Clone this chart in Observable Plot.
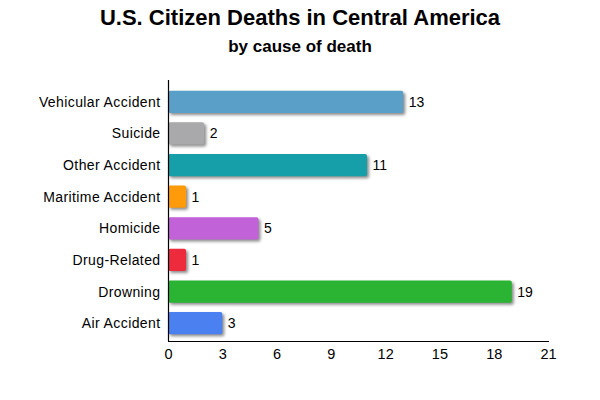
<!DOCTYPE html>
<html>
<head>
<meta charset="utf-8">
<script src="https://cdn.jsdelivr.net/npm/d3@7"></script>
<script src="https://cdn.jsdelivr.net/npm/@observablehq/plot@0.6"></script>
<style>
  body { margin: 0; background: #fff; font-family: "Liberation Sans", Arial, Helvetica, sans-serif; }
  #wrap { width: 600px; }
  .title { text-align: center; font-weight: bold; font-size: 22px; height: 36px; line-height: 22px; padding-top: 7px; box-sizing: border-box; color: #000; }
  .subtitle { text-align: center; font-weight: bold; font-size: 17px; height: 34px; line-height: 17px; padding-top: 2px; box-sizing: border-box; color: #000; }
</style>
</head>
<body>
<div id="wrap">
  <div class="title">U.S. Citizen Deaths in Central America</div>
  <div class="subtitle">by cause of death</div>
  <div id="chart"></div>
</div>
<script>
const causes = ["Vehicular Accident", "Suicide", "Other Accident", "Maritime Accident", "Homicide", "Drug-Related", "Drowning", "Air Accident"];
const deaths = [13, 2, 11, 1, 5, 1, 19, 3];
const colors = ["#5a9fc8", "#a9a9ac", "#169ea9", "#ff9a0b", "#c162d8", "#ee2a3d", "#2bb433", "#4b80f1"];
const xTicks = [0, 3, 6, 9, 12, 15, 18, 21];

const data = causes.map((c, i) => ({cause: c, value: deaths[i], color: colors[i]}));

const chart = Plot.plot({
  width: 600,
  height: 330,
  marginLeft: 168,
  marginRight: 52,
  marginTop: 10,
  marginBottom: 59,
  insetTop: 6,
  insetBottom: 2,
  style: {fontFamily: '"Liberation Sans", Arial, Helvetica, sans-serif', fontSize: "14.5px", color: "#000", background: "#fff"},
  x: {domain: [0, 21], ticks: xTicks, label: null, line: true, tickSize: 0, tickPadding: 7},
  y: {domain: causes, paddingInner: 0.3, paddingOuter: 0.15, round: false, label: null, tickSize: 0, tickPadding: 8},
  marks: [
    Plot.barX(data, {x: "value", y: "cause", fill: "color", rx: 2}),
    Plot.text(data, {x: "value", y: "cause", text: d => String(d.value), textAnchor: "start", dx: 5, fill: "#000", fontSize: 14}),
    Plot.ruleX([0], {stroke: "#000", strokeWidth: 1.2})
  ]
});
document.getElementById("chart").appendChild(chart);
d3.select(chart).selectAll('g[aria-label="bar"]').style("filter", "drop-shadow(2px 2px 1.5px rgba(0,0,0,0.45))");
d3.select(chart).selectAll('g[aria-label="y-axis tick label"] text').style("font-size", "14px").style("letter-spacing", "0.4px");
</script>
</body>
</html>
